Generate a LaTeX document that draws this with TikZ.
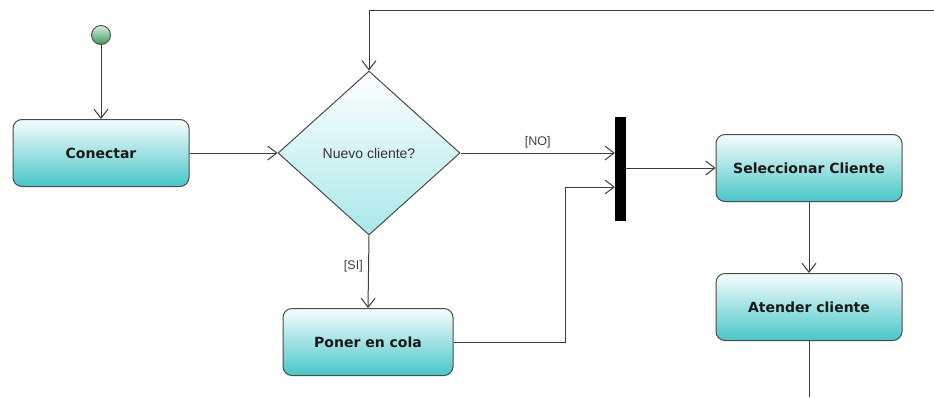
\documentclass[tikz,border=0pt]{standalone}
\usepackage{fontspec}
\setmainfont{Liberation Sans}
\newfontfamily\actfont{DejaVu Sans}
\usetikzlibrary{shapes.geometric,arrows.meta}

\definecolor{edge}{HTML}{4A4A4A}
\definecolor{wire}{HTML}{3C3C3C}
\definecolor{tealdark}{HTML}{48C6C9}
\definecolor{teallight}{HTML}{F7FDFD}
\definecolor{diamlow}{HTML}{A9E8EA}
\definecolor{startlow}{HTML}{3A9A5E}
\definecolor{starttop}{HTML}{D4EEDB}

\tikzset{
  activity/.style={draw=edge, line width=1pt, rounded corners=9pt,
    top color=teallight, bottom color=tealdark,
    minimum height=67pt, inner sep=0pt,
    font=\actfont\bfseries\fontsize{14}{16}\selectfont, text=black!90},
  decision/.style={draw=edge, line width=1pt, diamond, inner sep=0pt,
    top color=white, bottom color=diamlow,
    minimum width=182pt, minimum height=164pt,
    font=\fontsize{14}{16}\selectfont, text=black!80},
  startnode/.style={circle, draw=edge, line width=0.9pt, minimum size=19pt,
    inner sep=0pt, top color=starttop, bottom color=startlow},
  forkbar/.style={fill=black, draw=none, minimum width=11pt,
    minimum height=104pt, inner sep=0pt},
  flow/.style={draw=wire, line width=1pt,
    -{Straight Barb[length=9pt,width=14pt,line width=1pt]}},
  plainflow/.style={draw=wire, line width=1pt},
  guard/.style={font=\fontsize{12.5}{14}\selectfont, text=black!75}
}

\begin{document}
\begin{tikzpicture}[x=1pt, y=-1pt]
  \useasboundingbox (0,0) rectangle (934,397);

  % nodes
  \node[startnode] (start) at (101,35) {};
  \node[activity, minimum width=176pt] (con) at (101,153) {Conectar};
  \node[decision] (dec) at (369,153) {Nuevo cliente?};
  \node[activity, minimum width=170pt] (cola) at (368,342) {Poner en cola};
  \node[forkbar] (bar) at (620.5,169) {};
  \node[activity, minimum width=186pt] (sel) at (809,168) {Seleccionar Cliente};
  \node[activity, minimum width=186pt] (ate) at (809,307) {Atender cliente};

  % free ends of the loop and the exit
  \coordinate (loopin) at (934,10);
  \coordinate (exit) at (809,397);
  \coordinate (join) at (565,187);

  % connectors
  \draw[flow] (start) -- (con);
  \draw[flow] (con.east) -- (dec.west);
  \draw[flow] (loopin) -| (dec.north);
  \draw[flow] (dec.east) -- (dec.east -| bar.west)
    node[guard, midway, above=1pt] {[NO]};
  \draw[flow] (dec.south) -- (cola.north)
    node[guard, pos=0.42, left=2pt] {[SI]};
  \draw[flow] (cola.east) -| (join) -- (join -| bar.west);
  \draw[flow] (bar.east |- sel.west) -- (sel.west);
  \draw[flow] (sel.south) -- (ate.north);
  \draw[plainflow] (ate.south) -- (exit);
\end{tikzpicture}
\end{document}
